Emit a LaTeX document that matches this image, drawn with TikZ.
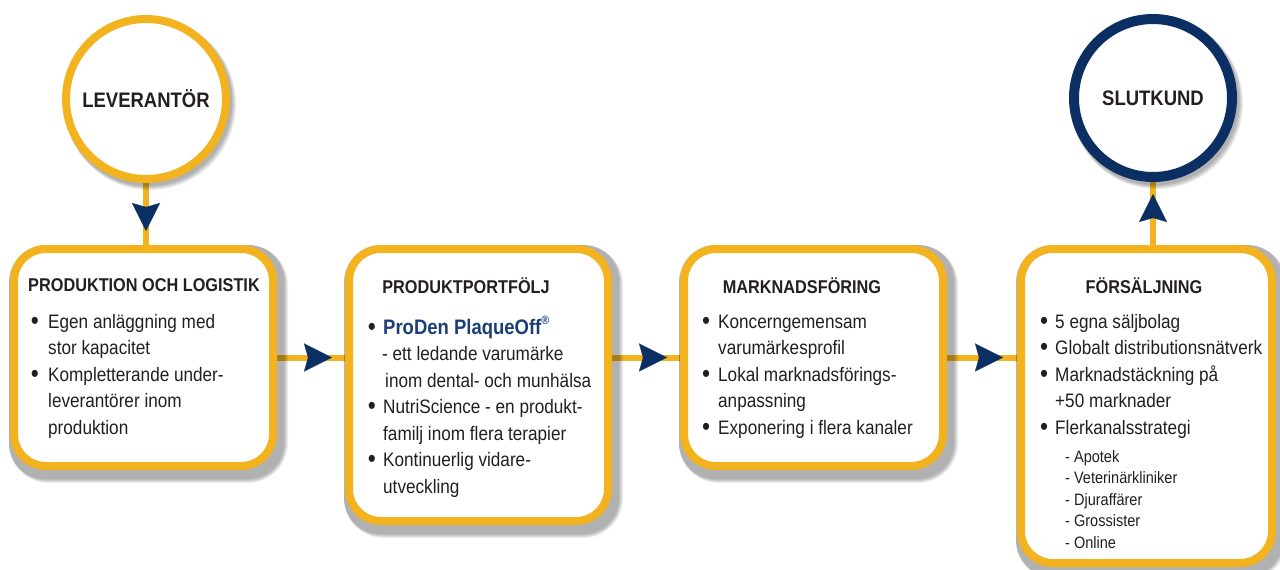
\documentclass[tikz,border=0pt]{standalone}
\usepackage{fontspec}
\setmainfont{Liberation Sans}[FakeStretch=0.88]
\usetikzlibrary{arrows.meta,decorations.markings}
\definecolor{gold}{HTML}{F2B31F}
\definecolor{golddark}{HTML}{D29817}
\definecolor{navy}{HTML}{0B2F63}
\definecolor{ink}{HTML}{231F20}
\definecolor{brand}{HTML}{1C3F78}
\pgfdeclarelayer{bg}
\pgfdeclarelayer{shade}
\pgfsetlayers{bg,shade,main}
\newcommand\boxshade[1]{%
  \foreach \g in {4,3,2,1,0}{
    \fill[black, opacity=0.07, rounded corners={36pt+\g pt}]
      ([shift={(-1,0)}]#1.north west) rectangle
      ([shift={({4+3+\g},{4+5+\g})}]#1.south east);
  }}
\newcommand\ringshade[1]{%
  \foreach \g in {4,3,2,1,0}{
    \fill[black, opacity=0.07] ([shift={({2+\g/2},{3+\g/2})}]#1.center) circle ({84+\g/2});
  }}
\begin{document}
\begin{tikzpicture}[x=1pt,y=-1pt,
  box/.style={rectangle, draw=gold, line width=8pt, fill=white, rounded corners=32pt, inner sep=0pt},
  ring/.style={circle, fill=white, inner sep=0pt, font=\fontsize{21}{24}\selectfont\bfseries, text=ink},
  conn/.style={draw=gold, line width=6pt},
  tipat/.style={postaction={decorate}, decoration={markings, mark=at position #1 with
    {\arrow{Stealth[length=28pt,width=28pt,inset=4pt,color=navy,fill=navy,line width=0.1pt]}}}},
  txt/.style={font=\fontsize{19.5}{23}\selectfont, text=ink, inner sep=0pt, anchor=base west},
  bul/.style={font=\fontsize{26}{26}\selectfont, text=ink, inner sep=0pt, anchor=base},
  ttl/.style={font=\fontsize{18.5}{22}\selectfont\bfseries, text=ink, inner sep=0pt, anchor=base},
  sub/.style={font=\fontsize{16.5}{20}\selectfont, text=ink, inner sep=0pt, anchor=base west}]
\useasboundingbox (0,0) rectangle (1280,570);

% circles
\node[ring, draw=gold, line width=8pt, minimum size=160pt] (lev) at (146,99) {LEVERANTÖR};
\node[ring, draw=navy, line width=10pt, minimum size=158pt] (slut) at (1153,98) {SLUTKUND};

% boxes
\node[box, minimum width=259pt, minimum height=217pt] (b1) at (143.5,357.5) {};
\node[box, minimum width=259pt, minimum height=272pt] (b2) at (478.5,385) {};
\node[box, minimum width=259pt, minimum height=217pt] (b3) at (813.5,357.5) {};
\node[box, minimum width=251pt, minimum height=314pt] (b4) at (1146.5,406) {};

% shadows
\begin{pgfonlayer}{shade}
\boxshade{b1}\boxshade{b2}\boxshade{b3}\boxshade{b4}
\ringshade{lev}\ringshade{slut}
\end{pgfonlayer}

% connectors
\begin{pgfonlayer}{bg}
\draw[conn, tipat=48pt] (lev.south) -- (lev.south |- b1.north);
\draw[conn, tipat=55pt] (b1.east) -- (b1.east -| b2.west);
\draw[conn, tipat=55pt] (b2.east |- b3.west) -- (b3.west);
\draw[conn, tipat=56pt] (b3.east) -- (b3.east -| b4.west);
\draw[conn, tipat=51pt] (b4.north -| slut.south) -- (slut.south);
\end{pgfonlayer}

% box 1
\node[ttl] (t1) at (144,291.5) {PRODUKTION OCH LOGISTIK};
\node[bul] (p1a) at (35,329) {•};
\node[txt] (l1a) at (48,328) {Egen anläggning med};
\node[txt] (l1b) at (48,354.5) {stor kapacitet};
\node[bul] (p1b) at (35,382) {•};
\node[txt] (l1c) at (48,381) {Kompletterande under-};
\node[txt] (l1d) at (48,407.5) {leverantörer inom};
\node[txt] (l1e) at (48,434) {produktion};

% box 2
\node[ttl] (t2) at (466,293) {PRODUKTPORTFÖLJ};
\node[bul] (p2a) at (372,335) {•};
\node[txt, font=\fontsize{21}{24}\selectfont\bfseries, text=brand] (l2a) at (383,334)
  {ProDen PlaqueOff\raisebox{0.45em}{\fontsize{12}{12}\selectfont ®}};
\node[txt] (l2b) at (382,360.5) {- ett ledande varumärke};
\node[txt] (l2c) at (385,387) {inom dental- och munhälsa};
\node[bul] (p2b) at (372,414.5) {•};
\node[txt] (l2d) at (383,413.5) {NutriScience - en produkt-};
\node[txt] (l2e) at (383,440) {familj inom flera terapier};
\node[bul] (p2c) at (372,467.5) {•};
\node[txt] (l2f) at (383,466.5) {Kontinuerlig vidare-};
\node[txt] (l2g) at (383,493) {utveckling};

% box 3
\node[ttl] (t3) at (802,293) {MARKNADSFÖRING};
\node[bul] (p3a) at (706,329) {•};
\node[txt] (l3a) at (718,328) {Koncerngemensam};
\node[txt] (l3b) at (718,354.5) {varumärkesprofil};
\node[bul] (p3b) at (706,382) {•};
\node[txt] (l3c) at (718,381) {Lokal marknadsförings-};
\node[txt] (l3d) at (718,407.5) {anpassning};
\node[bul] (p3c) at (706,435) {•};
\node[txt] (l3e) at (718,434) {Exponering i flera kanaler};

% box 4
\node[ttl] (t4) at (1144,293) {FÖRSÄLJNING};
\node[bul] (p4a) at (1044,329) {•};
\node[txt] (l4a) at (1055,328) {5 egna säljbolag};
\node[bul] (p4b) at (1044,355.5) {•};
\node[txt] (l4b) at (1055,354.5) {Globalt distributionsnätverk};
\node[bul] (p4c) at (1044,382) {•};
\node[txt] (l4c) at (1055,381) {Marknadstäckning på};
\node[txt] (l4d) at (1055,407.5) {+50 marknader};
\node[bul] (p4d) at (1044,435) {•};
\node[txt] (l4e) at (1055,434) {Flerkanalsstrategi};
\node[sub] (s1) at (1065,462) {- Apotek};
\node[sub] (s2) at (1065,483.5) {- Veterinärkliniker};
\node[sub] (s3) at (1065,505) {- Djuraffärer};
\node[sub] (s4) at (1065,526.5) {- Grossister};
\node[sub] (s5) at (1065,548) {- Online};
\end{tikzpicture}
\end{document}
